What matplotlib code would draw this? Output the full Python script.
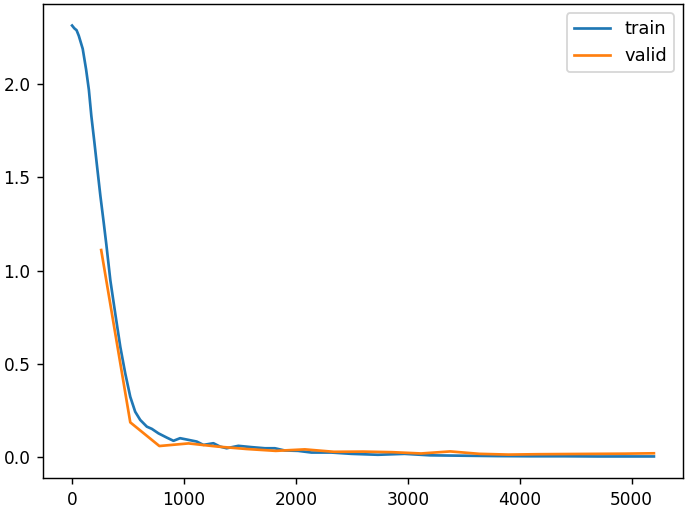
import matplotlib
matplotlib.use("Agg")
import matplotlib.pyplot as plt

# training loss (step, loss)
train_steps = [0, 20, 40, 60, 95, 125, 150, 172, 199, 223, 253, 282, 306,
               342, 386, 431, 475, 520, 564, 609, 668, 713, 772, 847, 906,
               965, 1040, 1114, 1174, 1263, 1322, 1381, 1486, 1604, 1723,
               1812, 1901, 2020, 2139, 2317, 2495, 2733, 2971, 3200, 3500,
               3800, 4100, 4400, 4700, 5000, 5200]
train_loss = [2.315, 2.30, 2.29, 2.26, 2.19, 2.08, 1.97, 1.83, 1.69, 1.56,
              1.40, 1.26, 1.14, 0.947, 0.768, 0.590, 0.448, 0.322, 0.242,
              0.198, 0.162, 0.150, 0.126, 0.103, 0.086, 0.100, 0.091, 0.082,
              0.064, 0.073, 0.055, 0.046, 0.059, 0.052, 0.046, 0.046, 0.034,
              0.032, 0.023, 0.023, 0.016, 0.011, 0.016, 0.008, 0.006, 0.004,
              0.003, 0.003, 0.002, 0.002, 0.002]

# validation loss, one value per epoch
valid_steps = [260, 520, 780, 1040, 1300, 1560, 1820, 2080, 2340, 2600,
               2860, 3120, 3380, 3640, 3900, 4160, 4420, 4680, 4940, 5200]
valid_loss = [1.11, 0.185, 0.058, 0.072, 0.055, 0.042, 0.032, 0.040, 0.027,
              0.028, 0.025, 0.018, 0.029, 0.016, 0.012, 0.014, 0.015, 0.016,
              0.017, 0.019]

dpi = 129
fig = plt.figure(figsize=(685 / dpi, 507 / dpi), dpi=dpi)
ax = fig.add_axes([43 / 685, 29 / 507, 640 / 685, 474 / 507])

ax.plot(train_steps, train_loss, label="train")
ax.plot(valid_steps, valid_loss, label="valid")
ax.tick_params(labelsize=9.5)
ax.legend()

fig.savefig("out.png", dpi=dpi)
